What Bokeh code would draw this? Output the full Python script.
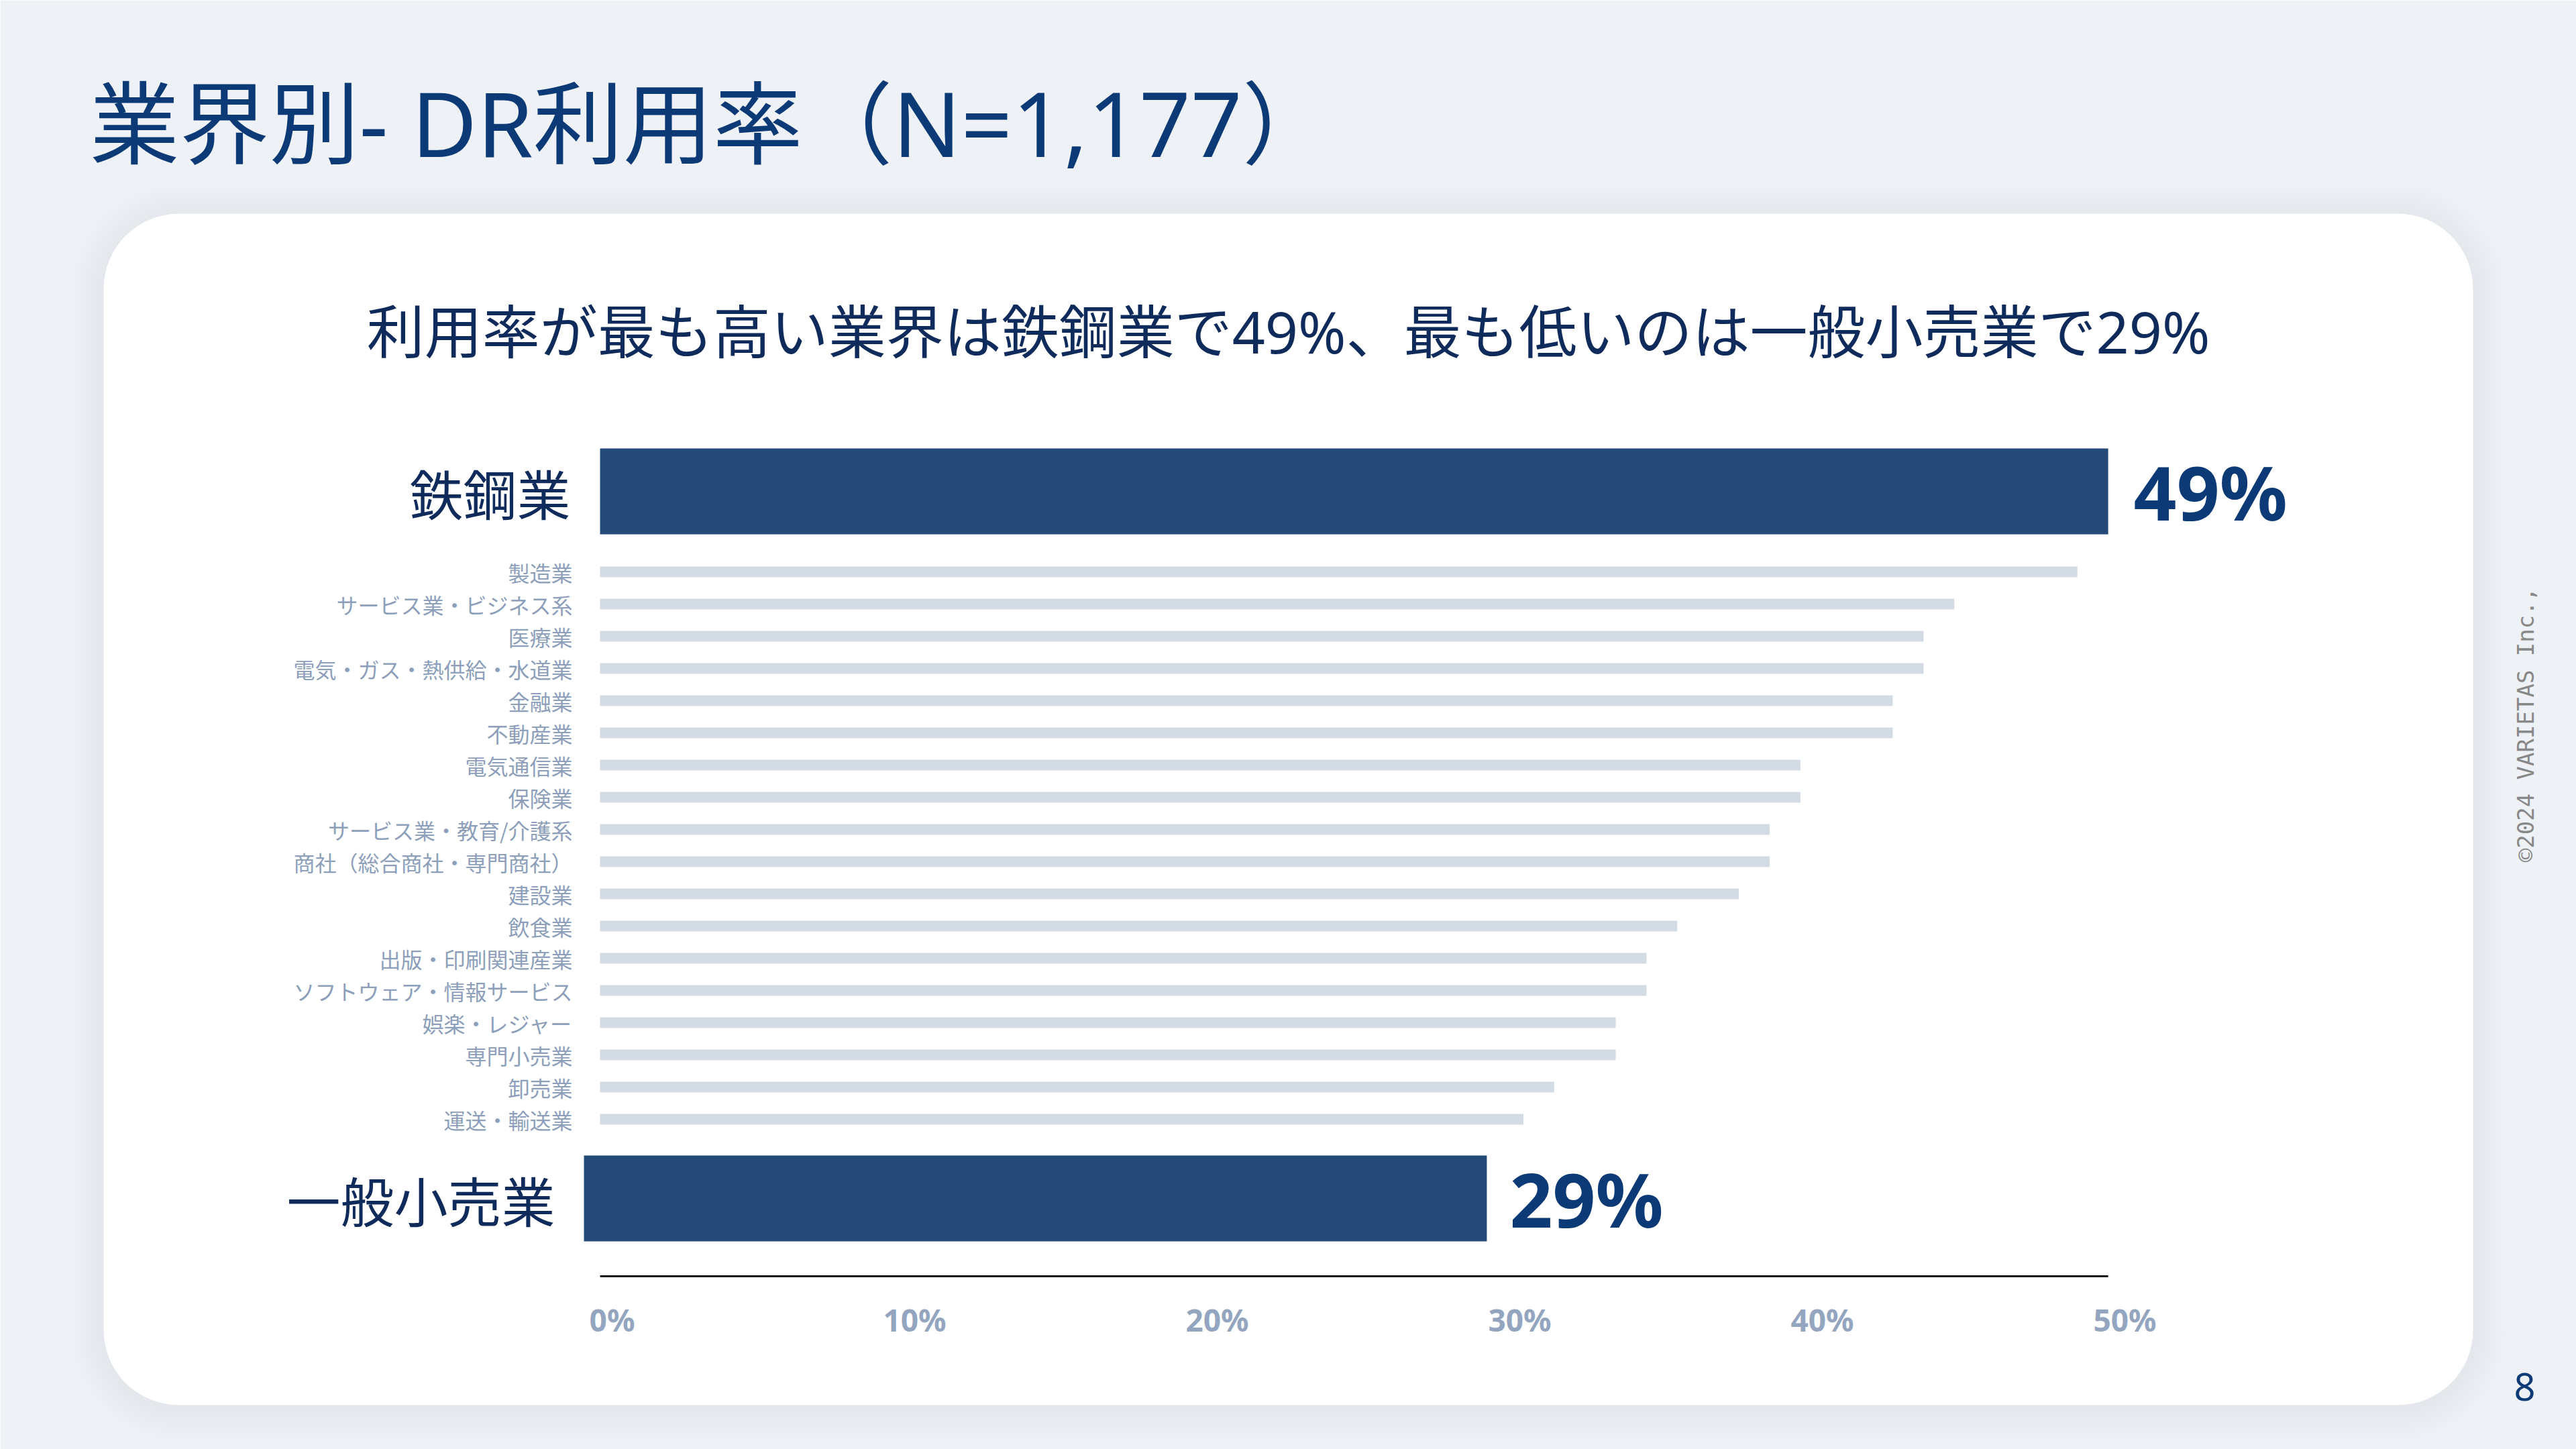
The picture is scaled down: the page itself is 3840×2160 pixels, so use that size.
import math
from bokeh.plotting import figure
from bokeh.models import Range1d
from bokeh.core.properties import value
from bokeh.embed import file_html
from bokeh.resources import INLINE

# ---------------- data ----------------
top_category = "鉄鋼業"
top_value = 49
bottom_category = "一般小売業"
bottom_value = 29
categories = [
    "製造業", "サービス業・ビジネス系", "医療業", "電気・ガス・熱供給・水道業",
    "金融業", "不動産業", "電気通信業", "保険業", "サービス業・教育/介護系",
    "商社（総合商社・専門商社）", "建設業", "飲食業", "出版・印刷関連産業",
    "ソフトウェア・情報サービス", "娯楽・レジャー", "専門小売業", "卸売業", "運送・輸送業",
]
values = [48, 44, 43, 43, 42, 42, 39, 39, 38, 38, 37, 35, 34, 34, 33, 33, 31, 30]
ticks = [0, 10, 20, 30, 40, 50]
sample_n = "1,177"
title_text = f"業界別- DR利用率（N={sample_n}）"
subtitle_text = (f"利用率が最も高い業界は{top_category}で{top_value}%、"
                 f"最も低いのは{bottom_category}で{bottom_value}%")
copyright_text = "©2024 VARIETAS Inc.,"
page_no = "8"

# ---------------- layout / style ----------------
W, H = 3840, 2160
X0, PXP = 894, 45.88          # main scale: 0 % position, pixels per percent
X0_LOW, PXP_LOW = 870, 46.41  # highlighted bottom bar is drawn slightly offset
X0_TICK, PXP_TICK = 912, 45.1 # evenly spread percent labels under the chart
BG = "#EEF2F6"
NAVY = "#0C3A77"
DARK = "#0E2B5C"
BAR_DARK = "#254A7A"
BAR_LIGHT = "#D3DBE5"
LABEL_GRAY = "#8D9FBA"
TICK_GRAY = "#94A6BF"
CJK = value("Noto Sans CJK JP")
MIX = value("Noto Sans, Noto Sans CJK JP")
LAT = value("Noto Sans")


def rng(x0, pxp):
    return Range1d(-x0 / pxp, (W - x0) / pxp)


p = figure(width=W, height=H, output_backend="svg", toolbar_location=None,
           x_range=rng(X0, PXP), y_range=Range1d(H, 0),
           x_axis_location=None, y_axis_location=None, min_border=0)
p.extra_x_ranges = {
    "px": Range1d(0, W),
    "low": rng(X0_LOW, PXP_LOW),
    "tick": rng(X0_TICK, PXP_TICK),
}
p.grid.visible = False
p.outline_line_color = None
p.background_fill_color = BG
p.border_fill_color = BG

# card with soft shadow
CL, CR, CT, CB, RAD = 154, 3686, 318, 2094, 112
for k in range(10, 0, -1):
    g = k * 5
    p.quad(left=[CL - g], right=[CR + g], top=[CT - g + 4], bottom=[CB + g + 4],
           x_range_name="px", fill_color="#8E9BB0", fill_alpha=0.011,
           line_color=None, border_radius=RAD + g)
p.quad(left=[CL], right=[CR], top=[CT], bottom=[CB], x_range_name="px",
       fill_color="#FFFFFF", line_color=None, border_radius=RAD)

# title + subtitle
p.text(x=[133], y=[181], text=[title_text], x_range_name="px", text_font=MIX,
       text_font_size="134px", text_color=NAVY, text_align="left",
       text_baseline="middle")
p.text(x=[(CL + CR) / 2], y=[493], text=[subtitle_text], x_range_name="px",
       text_font=MIX, text_font_size="86px", text_color=DARK,
       text_align="center", text_baseline="middle")

# highlighted top bar
Y_TOP = 732
BIG_H = 128
p.hbar(y=[Y_TOP], left=0, right=[top_value], height=BIG_H,
       fill_color=BAR_DARK, line_color=None)
p.text(x=[0], y=[Y_TOP], text=[top_category], x_offset=-44, text_font=CJK,
       text_font_size="80px", text_color=DARK, text_align="right",
       text_baseline="middle")
p.text(x=[top_value], y=[Y_TOP], text=[f"{top_value}%"], x_offset=38,
       text_font=LAT, text_font_style="bold", text_font_size="112px",
       text_color=NAVY, text_align="left", text_baseline="middle")

# small bars
Y0_SMALL, STEP = 852, 48
ys = [Y0_SMALL + STEP * i for i in range(len(values))]
p.hbar(y=ys, left=0, right=values, height=16, fill_color=BAR_LIGHT,
       line_color=None)
p.text(x=[0] * len(categories), y=ys, text=categories, x_offset=-41,
       text_font=CJK, text_font_size="32px", text_color=LABEL_GRAY,
       text_align="right", text_baseline="middle")

# highlighted bottom bar
Y_BOT = 1786
p.hbar(y=[Y_BOT], left=0, right=[bottom_value], height=BIG_H,
       fill_color=BAR_DARK, line_color=None, x_range_name="low")
p.text(x=[0], y=[Y_BOT], text=[bottom_category], x_offset=-43,
       x_range_name="low", text_font=CJK, text_font_size="80px",
       text_color=DARK, text_align="right", text_baseline="middle")
p.text(x=[bottom_value], y=[Y_BOT], text=[f"{bottom_value}%"], x_offset=34,
       x_range_name="low", text_font=LAT, text_font_style="bold",
       text_font_size="112px", text_color=NAVY, text_align="left",
       text_baseline="middle")

# axis line + tick labels
Y_AXIS = 1902
p.segment(x0=[0], x1=[max(values + [top_value])], y0=[Y_AXIS], y1=[Y_AXIS],
          line_color="#111111", line_width=3)
p.text(x=ticks, y=[1966] * len(ticks), text=[f"{t}%" for t in ticks],
       x_range_name="tick", text_font=LAT, text_font_style="bold",
       text_font_size="46px", text_color=TICK_GRAY, text_align="center",
       text_baseline="middle")

# side copyright and page number
p.text(x=[3764], y=[1080], text=[copyright_text], x_range_name="px",
       angle=math.pi / 2, text_font=value("DejaVu Sans Mono"),
       text_font_size="34px", text_color="#888888", text_align="center",
       text_baseline="middle")
p.text(x=[3763], y=[2067], text=[page_no], x_range_name="px", text_font=LAT,
       text_font_size="56px", text_color=NAVY, text_align="center",
       text_baseline="middle")

open("out.html", "w").write(file_html(p, INLINE))
